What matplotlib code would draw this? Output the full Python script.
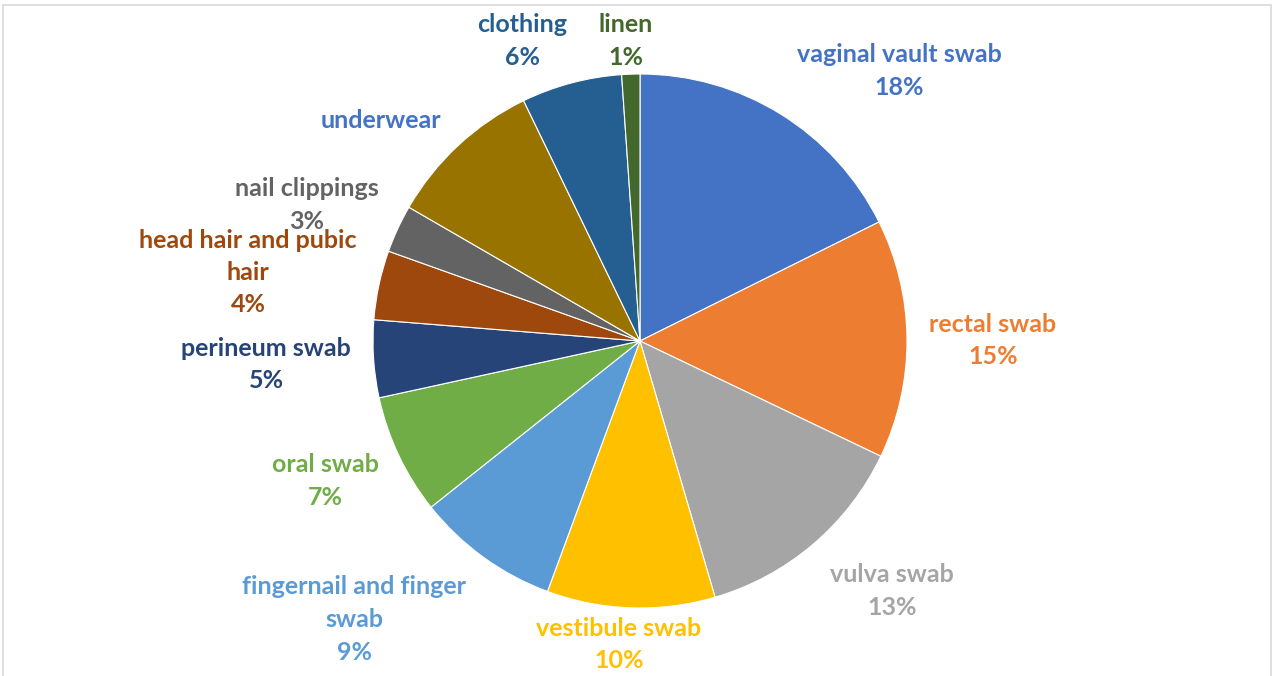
import matplotlib
matplotlib.use("Agg")
import matplotlib.pyplot as plt
from matplotlib.patches import Rectangle

categories = ["vaginal vault swab", "rectal swab", "vulva swab", "vestibule swab",
              "fingernail and finger swab", "oral swab", "perineum swab",
              "head hair and pubic hair", "nail clippings", "underwear",
              "clothing", "linen"]
values = [17.7, 14.5, 13.4, 10.2, 8.7, 7.3, 4.7, 4.2, 2.9, 9.5, 6.1, 1.1]
pct_labels = ["18%", "15%", "13%", "10%", "9%", "7%", "5%", "4%", "3%", "", "6%", "1%"]
label_lines = [["vaginal vault swab"], ["rectal swab"], ["vulva swab"], ["vestibule swab"],
               ["fingernail and finger", "swab"], ["oral swab"], ["perineum swab"],
               ["head hair and pubic", "hair"], ["nail clippings"], ["underwear"],
               ["clothing"], ["linen"]]
colors = ["#4472C4", "#ED7D31", "#A5A5A5", "#FFC000", "#5B9BD5", "#70AD47",
          "#264478", "#9E480E", "#636363", "#997300", "#255E91", "#43682B"]
label_colors = list(colors)
label_colors[9] = "#4472C4"

# label centre of first line, in pixels (x, y from top)
label_pos = [(899, 55), (993, 324), (892, 575), (619, 628), (354, 587), (325, 465),
             (266, 348), (248, 240), (307, 189), (381, 120), (522, 25), (626, 25)]

W, H = 1274, 676
fig = plt.figure(figsize=(W / 100, H / 100), dpi=100)
cx, cy, R = 640, 341, 267
ax = fig.add_axes([(cx - R) / W, (H - cy - R) / H, 2 * R / W, 2 * R / H])
ax.pie(values, colors=colors, startangle=90, counterclock=False, radius=1,
       wedgeprops=dict(edgecolor="white", linewidth=0.8))
ax.set_xlim(-1, 1)
ax.set_ylim(-1, 1)
ax.axis("off")

line_h = 32.5
for lines, pct, (px, py), col in zip(label_lines, pct_labels, label_pos, label_colors):
    allines = lines + ([pct] if pct else [])
    for i, t in enumerate(allines):
        yy = py + i * line_h
        fig.text(px / W, 1 - yy / H, t, ha="center", va="center", color=col,
                 fontsize=18, fontweight="bold", family="Lato")

fig.patches.append(Rectangle((3 / W, -0.05), (1271 - 3) / W, 1 - 5 / H + 0.05,
                             transform=fig.transFigure, fill=False,
                             edgecolor="#D9D9D9", linewidth=1.2))
fig.savefig("out.png", dpi=100)
